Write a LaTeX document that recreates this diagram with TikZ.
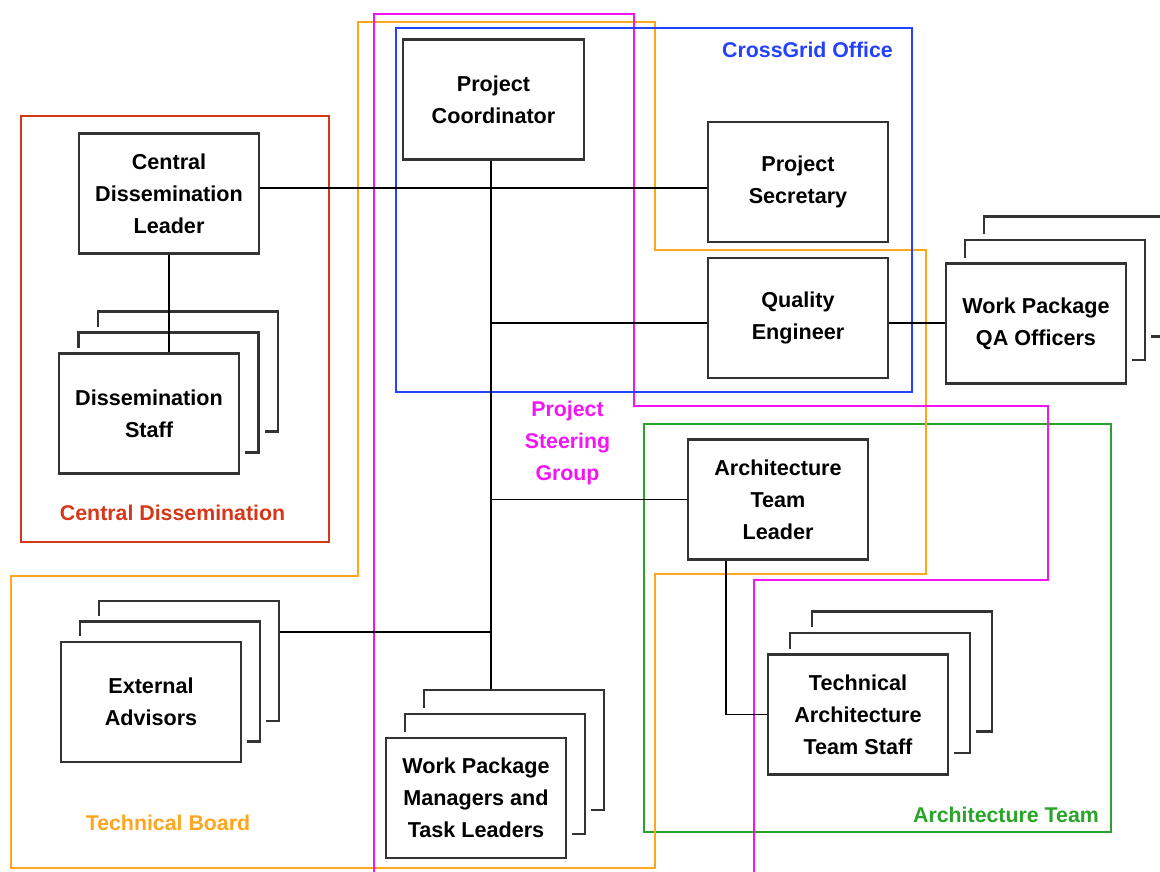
\documentclass[tikz,border=0pt]{standalone}
\usepackage{fontspec}
\setmainfont{Liberation Sans}
\definecolor{cgblue}{RGB}{35,65,255}
\definecolor{cgmag}{RGB}{245,20,245}
\definecolor{cgorange}{RGB}{255,165,30}
\definecolor{cggreen}{RGB}{40,165,40}
\definecolor{cgred}{RGB}{215,55,25}
\tikzset{
  sbox/.style={draw=black!80, line width=2pt, fill=white, minimum width=135pt, minimum height=90pt, inner sep=0pt},
  haloed/.style={preaction={draw=white, line width=9pt}},
  txt/.style={font=\bfseries\fontsize{16.2}{24}\selectfont, align=center},
  lbl/.style={font=\bfseries\fontsize{16}{24}\selectfont, align=center, inner sep=0pt},
  conn/.style={draw=black, line width=1.3pt},
  region/.style={line width=1.4pt},
}
\newcommand\mystack[6]{%
  \node[sbox] (#1-b) at ({#2+2*(#4)},{#3+2*(#5)}) {};
  \node[sbox,haloed] (#1-m) at ({#2+#4},{#3+#5}) {};
  \node[sbox,haloed,txt] (#1) at (#2,#3) {#6};
}
\begin{document}
\begin{tikzpicture}[x=0.75pt,y=-0.75pt]
\fill[white] (0,0) rectangle (1160,871);
\useasboundingbox (0,0) rectangle (1160,871);
\clip (0,0) rectangle (1160,871);
% regions
\draw[region, cgred] (21,116) rectangle (329,542);
\draw[region, cggreen] (644,424) rectangle (1111,832);
\draw[region, cgorange] (358,22) -- (655,22) -- (655,250) -- (926,250) -- (926,574) -- (655,574) -- (655,868) -- (11,868) -- (11,576) -- (358,576) -- cycle;
\draw[region, cgmag] (374,880) -- (374,14) -- (634,14) -- (634,406) -- (1048,406) -- (1048,580) -- (754,580) -- (754,880);
\draw[region, cgblue] (396,28) rectangle (912,392);
% region labels
\node[lbl, text=cgblue, anchor=base] (lcg) at (807.5,57) {CrossGrid Office};
\node[lbl, text=cgred, anchor=base] (lcd) at (172.6,520) {Central Dissemination};
\node[lbl, text=cgorange, anchor=base] (ltb) at (168,830) {Technical Board};
\node[lbl, text=cggreen, anchor=base] (lat) at (1006,822) {Architecture Team};
\node[lbl, text=cgmag] (lpsg) at (567.5,443) {Project\\Steering\\Group};
% stacks
\mystack{DS}{149}{413.5}{19.5}{-21}{Dissemination\\Staff}
\mystack{EA}{151}{702}{19}{-20.5}{External\\Advisors}
\mystack{WPM}{476}{798}{19}{-24}{Work Package\\Managers and\\Task Leaders}
\mystack{TATS}{858}{714.5}{22}{-21.5}{Technical\\Architecture\\Team Staff}
\mystack{WPQA}{1036}{323.5}{19}{-23.5}{Work Package\\QA Officers}
% single boxes
\node[sbox, txt, minimum width=135.75pt] (PC) at (493.5,99.5) {Project\\Coordinator};
\node[sbox, txt] (CDL) at (169,193.5) {Central\\Dissemination\\Leader};
\node[sbox, txt] (PS) at (798,182) {Project\\Secretary};
\node[sbox, txt] (QE) at (798,318) {Quality\\Engineer};
\node[sbox, txt] (ATL) at (778,499.5) {Architecture\\Team\\Leader};
% connector helpers
\coordinate (vx) at (491,0);
\coordinate (ax) at (726,0);
\coordinate (hs) at (0,188);
\coordinate (hq) at (0,323);
\coordinate (he) at (0,632);
% connectors
\draw[conn] (CDL.east |- hs) -- (PS.west |- hs);
\draw[conn] (PC.south -| vx) -- (vx |- WPM-b.north);
\draw[conn] (vx |- hq) -- (QE.west |- hq);
\draw[conn] (QE.east |- hq) -- (WPQA.west |- hq);
\draw[conn] (vx |- ATL.west) -- (ATL.west);
\draw[conn] (vx |- he) -- (EA-b.east |- he);
\draw[conn] (CDL.south) -- (CDL.south |- DS.north);
\draw[conn] (ATL.south -| ax) |- (TATS.west);
\end{tikzpicture}
\end{document}
